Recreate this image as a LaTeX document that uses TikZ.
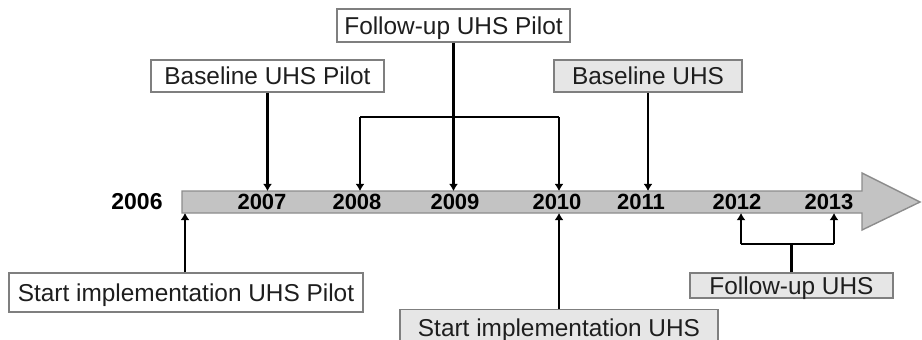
\documentclass[tikz,border=0pt]{standalone}
\usepackage{fontspec}
\setmainfont{Liberation Sans}
\usetikzlibrary{arrows.meta}
\definecolor{boxline}{HTML}{7F7F7F}
\definecolor{boxgray}{HTML}{E6E6E6}
\definecolor{barfill}{HTML}{C3C3C3}
\definecolor{barline}{HTML}{8C8C8C}
\definecolor{ink}{HTML}{1E1E1E}
\tikzset{
  event/.style={draw=boxline, line width=0.7pt, fill=white, inner sep=0pt,
    text=ink, font=\fontsize{12.2}{14}\selectfont, text height=8.7pt, text depth=0pt},
  eventgray/.style={event, fill=boxgray},
  year/.style={inner sep=0pt, text=black, font=\fontsize{11}{13}\selectfont\bfseries,
    text height=7.9pt, text depth=0pt},
  link/.style={line width=1.4pt, black},
  tolink/.style={link, -{Latex[length=3.6pt,width=4.6pt]}}
}
\begin{document}
\begin{tikzpicture}[x=0.5pt,y=-0.5pt]
\useasboundingbox (0,0) rectangle (922,339);

% timeline arrow
\draw[barline, fill=barfill, line width=0.7pt]
  (182,191) -- (862,191) -- (862,173) -- (920,202) -- (862,230) -- (862,213) -- (182,213) -- cycle;
\coordinate (bartop) at (0,191);
\coordinate (barbot) at (0,213);

% years
\node[year, font=\fontsize{11.5}{13}\selectfont\bfseries] (y2006) at (137,202) {2006};
\node[year] (y2007) at (262,202) {2007};
\node[year] (y2008) at (357,202) {2008};
\node[year] (y2009) at (455,202) {2009};
\node[year] (y2010) at (557,202) {2010};
\node[year] (y2011) at (641,202) {2011};
\node[year] (y2012) at (737,202) {2012};
\node[year] (y2013) at (829,202) {2013};

% events above the line
\node[event, minimum width=116.5pt, minimum height=16.5pt] (fup) at (453.5,25.5) {Follow-up UHS Pilot};
\node[event, minimum width=116.5pt, minimum height=16pt] (bup) at (267.5,76) {Baseline UHS Pilot};
\node[eventgray, minimum width=94pt, minimum height=16pt] (bu) at (648,76) {Baseline UHS};

% events below the line
\node[event, minimum width=177pt, minimum height=19.5pt] (sip) at (186,292.5) {Start implementation UHS Pilot};
\node[eventgray, minimum width=159pt, minimum height=18.5pt] (siu) at (559,328) {Start implementation UHS};
\node[eventgray, minimum width=101.5pt, minimum height=12.5pt] (fu) at (791.5,285.5) {Follow-up UHS};

% connectors from the upper events
\draw[tolink] (bup.south) -- (bup.south |- bartop);
\draw[tolink] (fup.south) -- (fup.south |- bartop);
\coordinate (fupl) at (360,117);
\coordinate (fupr) at (559,117);
\draw[link] (fupl) -- (fupr);
\draw[tolink] (fupl) -- (fupl |- bartop);
\draw[tolink] (fupr) -- (fupr |- bartop);
\draw[tolink] (bu.south) -- (bu.south |- bartop);

% connectors from the lower events
\draw[tolink] (sip.north -| 185,0) -- (185,213);
\draw[tolink] (siu.north) -- (siu.north |- barbot);
\coordinate (ful) at (741,244);
\coordinate (fur) at (834,244);
\draw[link] (fu.north) -- (fu.north |- ful);
\draw[link] (ful) -- (fur);
\draw[tolink] (ful) -- (ful |- barbot);
\draw[tolink] (fur) -- (fur |- barbot);
\end{tikzpicture}
\end{document}
